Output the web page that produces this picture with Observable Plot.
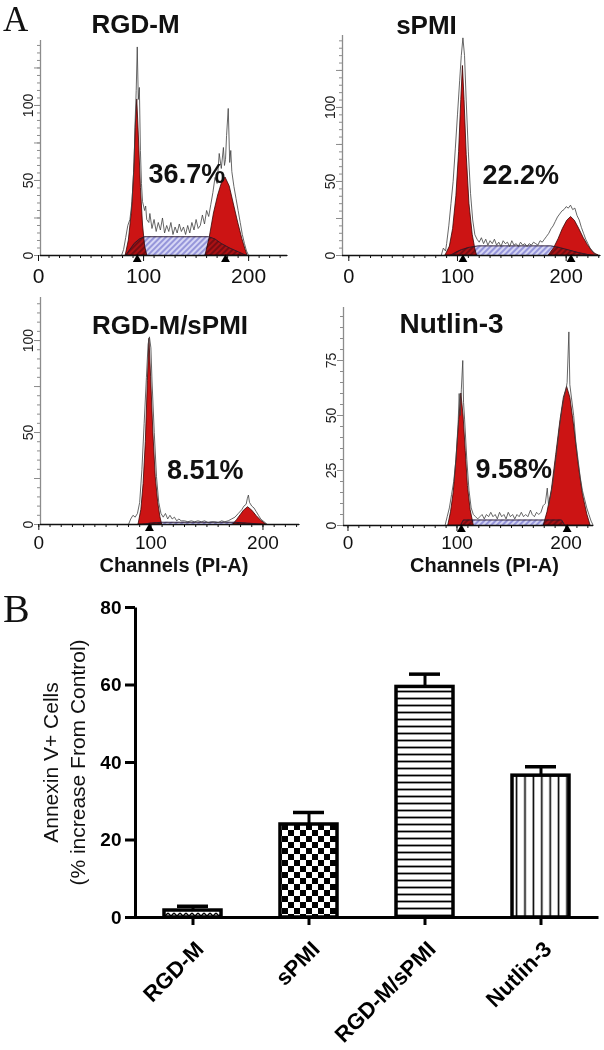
<!DOCTYPE html>
<html>
<head>
<meta charset="utf-8">
<script src="https://cdn.jsdelivr.net/npm/d3@7"></script>
<script src="https://cdn.jsdelivr.net/npm/@observablehq/plot@0.6"></script>
<style>
html, body { margin: 0; padding: 0; background: #fff; }
#root { position: relative; width: 604px; height: 1050px; overflow: hidden; background: #fff; }
.panel { position: absolute; }
.letter { position: absolute; font-family: "Liberation Serif", "Times New Roman", serif; line-height: 1.1; color: #111; }
</style>
</head>
<body>
<svg width="0" height="0" style="position:absolute">
  <defs>
    <pattern id="hatchS" patternUnits="userSpaceOnUse" width="4" height="4" patternTransform="rotate(45)">
      <rect width="4" height="4" fill="#d6d6f5"/>
      <line x1="1" y1="0" x2="1" y2="4" stroke="#6a6ac8" stroke-width="1.2"/>
    </pattern>
    <pattern id="patZig" patternUnits="userSpaceOnUse" width="6" height="8">
      <rect width="6" height="8" fill="#fff"/>
      <path d="M0,3 L3,6 L6,3" fill="none" stroke="#000" stroke-width="1.4"/>
    </pattern>
    <pattern id="patCheck" patternUnits="userSpaceOnUse" width="12" height="12">
      <rect width="12" height="12" fill="#fff"/>
      <rect x="0" y="0" width="6" height="6" fill="#000"/>
      <rect x="6" y="6" width="6" height="6" fill="#000"/>
    </pattern>
    <pattern id="patHoriz" patternUnits="userSpaceOnUse" width="8" height="7">
      <rect width="8" height="7" fill="#fff"/>
      <line x1="0" y1="3.5" x2="8" y2="3.5" stroke="#000" stroke-width="1.8"/>
    </pattern>
    <pattern id="patVert" patternUnits="userSpaceOnUse" width="8.4" height="8">
      <rect width="8.4" height="8" fill="#fff"/>
      <line x1="4.2" y1="0" x2="4.2" y2="8" stroke="#000" stroke-width="1.6"/>
    </pattern>
  </defs>
</svg>
<div id="root"></div>
<script>
// ---------------- DATA ----------------
// Panel A histograms: [channel, count] pairs
const panelTitles = ["RGD-M", "sPMI", "RGD-M/sPMI", "Nutlin-3"];
const sPhasePct = ["36.7%", "22.2%", "8.51%", "9.58%"];
const xTickLabels = [0, 100, 200];
const yTicksA12 = [0, 50, 100];
const yTicksA3 = [0, 50, 100];
const yTicksA4 = [0, 25, 50, 75];
const channelsLabel = "Channels (PI-A)";

// RGD-M
const rgdRaw = [[2,0],[79,0],[81,4],[83,12],[85,20],[87,24],[89,36],[91,62],[92,90],[93,110],[94,139],[95,104],[96,112],[97,70],[98,48],[99,36],[101,30],[102,33],[103,24],[105,22],[106,28],[108,18],[110,24],[112,16],[114,22],[116,17],[118,25],[120,15],[122,20],[124,16],[126,22],[128,14],[130,19],[132,15],[134,21],[136,16],[138,19],[140,14],[142,20],[144,15],[146,22],[148,17],[150,24],[152,18],[154,20],[156,27],[158,21],[160,30],[162,26],[164,34],[166,42],[168,52],[170,48],[172,68],[174,58],[176,72],[177,60],[178,64],[179,80],[180.6,98],[182,62],[183,70],[184,56],[186,46],[188,38],[190,30],[192,22],[194,14],[196,8],[198,3],[200,0],[237,0]];
const rgdG1 = [[83,0],[86,10],[89,30],[91,55],[92.5,85],[94,104],[95.5,80],[97.5,45],[99.5,20],[101.5,6],[103.5,0]];
const rgdG2 = [[159,0],[163,12],[167,28],[171,40],[174.5,48],[178,52],[182,46],[186,34],[190,22],[194,11],[197,4],[199,0]];
const rgdS = [[83,0],[87,4],[91,8],[96,11],[101,12.5],[162,12.5],[168,11],[174,8],[182,5],[190,2.5],[198,0]];
const rgdPeaks = [94, 178];

// sPMI
const spmiRaw = [[-5.8,0],[85,0],[87,5],[89,3],[90,8],[92,20],[94,35],[96,50],[98,72],[100,95],[102,118],[103.5,135],[105,147],[106.5,135],[108,105],[110,70],[112,42],[114,24],[116,14],[118,11],[120,9],[122,12],[124,8],[126,11],[128,7],[130,10],[132,8],[134,11],[136,7],[138,9],[140,6],[142,10],[144,8],[146,9],[148,6],[150,10],[152,7],[154,8],[156,6],[158,9],[160,7],[162,8],[164,6],[166,8],[168,7],[170,9],[172,8],[174,7],[176,10],[178,9],[180,11],[182,13],[184,15],[186,18],[188,20],[190,23],[192,26],[194,28],[196,30],[198,31],[200,33],[202,32],[204,34],[206,31],[208,32],[210,27],[212,24],[214,19],[216,15],[218,11],[220,8],[222,5],[224,3],[226,1],[228,0],[231.6,0]];
const spmiG1 = [[89,0],[93,6],[96,18],[99,40],[101.5,70],[103.5,105],[105,128],[106.5,105],[108.5,68],[111,35],[114,14],[116.5,4],[118,0]];
const spmiG2 = [[184,0],[189,5],[193,11],[197,18],[201,23.5],[204.5,26],[208,23.5],[212,18],[216,12],[220,7],[224,3],[227,1],[230,0]];
const spmiS = [[93,0],[98,2],[104,4],[111,5.5],[119,6.5],[186,6.5],[193,5.5],[201,4],[211,2],[221,0.5],[226,0]];
const spmiPeaks = [105, 204.5];

// RGD-M/sPMI
const comboRaw = [[1.5,0],[80,0],[82,3],[84,5],[86,4],[88,6],[90,12],[92,30],[94,55],[96,80],[97.5,98],[98.7,102],[100,96],[101,78],[103,50],[105,26],[107,12],[109,6],[111,4],[113,6],[115,3],[117,5],[119,3],[121,4],[123,2],[125,3],[127,2],[130,2],[133,1.5],[136,2],[139,1.5],[142,2],[145,1.5],[148,2],[151,1],[154,1.5],[157,1.5],[160,1],[163,2],[166,1.5],[169,2],[172,3],[175,4],[178,6],[181,8],[183,10],[185,11],[186,14],[187,16],[188,12],[190,10],[192,9],[194,7],[196,5],[198,3],[200,2],[202,1],[204,0],[232.6,0]];
const comboG1 = [[89,0],[91.5,8],[93.5,22],[95.5,45],[97.3,78],[98.7,101],[100.2,80],[102.2,50],[104.3,26],[106.5,12],[108.5,4],[110,0]];
const comboG2 = [[173.5,0],[177,2.5],[180,5],[183,7.5],[186.7,9.4],[190.5,7.5],[194.5,4.5],[198.5,2],[203,0]];
const comboS = [[92,0],[100,0.8],[110,1.2],[175,1.2],[190,0.6],[200,0]];
const comboPeaks = [98.7];

// Nutlin-3
const nutRaw = [[-4.1,0],[89,0],[91,4],[93,8],[95,14],[97,20],[99,30],[101,46],[102,60],[103,50],[104,62],[105.3,75],[106,56],[107,48],[109,30],[111,16],[113,8],[115,5],[117,4],[119,3],[121,4],[123,5],[125,3],[127,5],[129,4],[131,6],[133,4],[135,5],[137,3],[139,6],[141,4],[143,5],[145,3],[147,6],[149,4],[151,5],[153,3],[155,5],[157,4],[159,6],[161,4],[163,5],[165,4],[167.4,7],[169,5],[171,4],[173,6],[175,5],[177,6],[179,9],[181,10],[182.8,17],[184,9],[186,14],[188,20],[190,28],[192,36],[194,45],[196,52],[198,58],[200,62],[201,65],[202.6,88],[203.5,64],[205,58],[207,50],[209,38],[211,30],[213,22],[215,16],[217,12],[219,8],[221,5],[223,2],[225,0]];
const nutG1 = [[92,0],[94.5,6],[97,15],[99.5,30],[102,48],[104,60],[106,50],[108,34],[110,18],[112.5,7],[115.4,0]];
const nutG2 = [[179.6,0],[183,6],[187,16],[191,32],[195,48],[198,58],[201,63],[204,58],[207.5,45],[211.5,28],[215.5,14],[219.5,5],[222.5,0]];
const nutS = [[103,0],[106,2.5],[196,2.5],[199,0]];
const nutPeaks = [104, 201];

// Panel B bar chart
const annexinCats = ["RGD-M", "sPMI", "RGD-M/sPMI", "Nutlin-3"];
const annexinMean = [1.8, 24.0, 59.5, 36.6];
const annexinSEM = [1.1, 3.1, 3.3, 2.3];
const annexinYTicks = [0, 20, 40, 60, 80];
const annexinYLabel = "Annexin V+ Cells\n(% increase From Control)";

// ---------------- LAYOUT / STYLE ----------------
const FONT = "Liberation Sans, Arial, Helvetica, sans-serif";
const RED = "#cc1414";
const X = d => d[0], Y = d => d[1];
const root = document.getElementById("root");

function place(node, left, top) {
  const div = document.createElement("div");
  div.className = "panel";
  div.style.left = left + "px";
  div.style.top = top + "px";
  div.appendChild(node);
  root.appendChild(div);
}

function histogram(p) {
  const [x0, x1] = p.xDomain;
  const yTop = p.yDomain[1];
  const minorX = d3.range(0, x1, 10);
  const minorY = d3.range(0, yTop, 5);
  const midY = d3.range(0, yTop, 25);
  const marks = [
    Plot.areaY(p.g1, {x: X, y: Y, fill: RED, stroke: "#3a0505", strokeWidth: 0.8}),
    Plot.areaY(p.g2, {x: X, y: Y, fill: RED, stroke: "#3a0505", strokeWidth: 0.8}),
    Plot.areaY(p.s, {x: X, y: Y, fill: "url(#hatchS)", mixBlendMode: "multiply"}),
    Plot.lineY(p.s, {x: X, y: Y, stroke: "#2b1a2b", strokeWidth: 0.9}),
    Plot.lineY(p.raw, {x: X, y: Y, stroke: "#404040", strokeWidth: 0.8}),
    Plot.ruleX([x0], {stroke: "#8c8c8c", strokeWidth: 1.3}),
    Plot.axisY({ticks: minorY, tickSize: 3, tickFormat: () => "", stroke: "#8c8c8c", label: null}),
    Plot.axisY({ticks: midY, tickSize: 6, tickFormat: () => "", stroke: "#8c8c8c", label: null}),
    Plot.text(p.yTicks, {x: x0, y: d => d, text: d => `${d}`, rotate: -90, textAnchor: "middle", lineAnchor: "bottom", dx: -8, fontSize: 14, fill: "#222"}),
    Plot.ruleY([0], {stroke: "#111", strokeWidth: 1.3}),
    Plot.axisX({ticks: minorX, tickSize: 3, tickFormat: () => "", label: null, stroke: "#111"}),
    Plot.axisX({ticks: xTickLabels, tickSize: 6, tickPadding: p.tp, fontSize: p.xfs, label: null, stroke: "#111", fill: "#111"}),
    Plot.dot(p.peaks, {x: d => d, y: 0, symbol: "triangle", r: 3.3, fill: "#000", dy: 4}),
    Plot.text([p.title], {x: p.titleAt[0], y: p.titleAt[1], text: d => d, fontSize: p.tfs, fontWeight: "bold", textAnchor: "middle", lineAnchor: "bottom", fill: "#111"}),
    Plot.text([p.pct], {x: p.pctAt[0], y: p.pctAt[1], text: d => d, fontSize: 27, fontWeight: "bold", textAnchor: "start", lineAnchor: "bottom", fill: "#111"})
  ];
  if (p.chAt != null) {
    marks.push(Plot.text([channelsLabel], {x: p.chAt, frameAnchor: "bottom", dy: p.chDy, text: d => d, fontSize: 20, fontWeight: "bold", textAnchor: "middle", lineAnchor: "bottom", fill: "#111"}));
  }
  return Plot.plot({
    width: p.w, height: p.h,
    marginLeft: p.ml, marginRight: p.mr, marginTop: p.mt, marginBottom: p.mb,
    x: {domain: p.xDomain},
    y: {domain: p.yDomain},
    style: {fontFamily: FONT, background: "white", overflow: "visible"},
    marks
  });
}

place(histogram({
  w: 300, h: 285, ml: 40, mr: 13, mt: 40, mb: 30,
  xDomain: [1.9, 237], yDomain: [0, 143.3], yTicks: yTicksA12,
  raw: rgdRaw, g1: rgdG1, g2: rgdG2, s: rgdS, peaks: rgdPeaks,
  title: panelTitles[0], titleAt: [92.4, 148], tfs: 26,
  pct: sPhasePct[0], pctAt: [104.8, 48],
  xfs: 21, tp: 7
}), 0, 0);

place(histogram({
  w: 304, h: 285, ml: 42, mr: 4, mt: 35, mb: 30,
  xDomain: [-5.8, 231.6], yDomain: [0, 148.6], yTicks: yTicksA12,
  raw: spmiRaw, g1: spmiG1, g2: spmiG2, s: spmiS, peaks: spmiPeaks,
  title: panelTitles[1], titleAt: [71.5, 149.5], tfs: 26,
  pct: sPhasePct[1], pctAt: [123, 48],
  xfs: 20, tp: 7
}), 300, 0);

place(histogram({
  w: 300, h: 305, ml: 40, mr: 1, mt: 12, mb: 66,
  xDomain: [1.5, 232.6], yDomain: [0, 123.4], yTicks: yTicksA3,
  raw: comboRaw, g1: comboG1, g2: comboG2, s: comboS, peaks: comboPeaks,
  title: panelTitles[2], titleAt: [117.1, 103.8], tfs: 26,
  pct: sPhasePct[2], pctAt: [114.4, 25],
  xfs: 19, tp: 5, chAt: 120.6, chDy: 47
}), 0, 285);

place(histogram({
  w: 304, h: 305, ml: 43, mr: 11, mt: 22, mb: 65,
  xDomain: [-4.1, 225.2], yDomain: [0, 99.1], yTicks: yTicksA4,
  raw: nutRaw, g1: nutG1, g2: nutG2, s: nutS, peaks: nutPeaks,
  title: panelTitles[3], titleAt: [95, 87.3], tfs: 28,
  pct: sPhasePct[3], pctAt: [117, 21.4],
  xfs: 19, tp: 4, chAt: 125.2, chDy: 46
}), 300, 285);

// ---------------- Panel B ----------------
const barPatterns = ["url(#patZig)", "url(#patCheck)", "url(#patHoriz)", "url(#patVert)"];
const barData = annexinCats.map((c, i) => ({cat: c, mean: annexinMean[i], sem: annexinSEM[i], pattern: barPatterns[i]}));
const BW = 604, BH = 460, BML = 135, BMR = 6, BMT = 17, BMB = 133;
const frameW = BW - BML - BMR, frameH = BH - BMT - BMB;

const barSvg = Plot.plot({
  width: BW, height: BH,
  marginLeft: BML, marginRight: BMR, marginTop: BMT, marginBottom: BMB,
  x: {domain: annexinCats, paddingInner: 0.51, paddingOuter: 0.245},
  y: {domain: [0, 80]},
  color: {type: "identity"},
  style: {fontFamily: FONT, background: "white", overflow: "visible"},
  marks: [
    Plot.barY(barData, {x: "cat", y: "mean", fill: "pattern", stroke: "#000", strokeWidth: 3.5}),
    Plot.ruleX(barData, {x: "cat", y1: "mean", y2: d => d.mean + d.sem, stroke: "#000", strokeWidth: 3}),
    Plot.tickY(barData, {x: "cat", y: d => d.mean + d.sem, stroke: "#000", strokeWidth: 3.5, insetLeft: 13, insetRight: 13}),
    Plot.frame({stroke: "#000", strokeWidth: 3, strokeDasharray: `0 ${frameW + frameH} ${frameW + frameH}`}),
    Plot.axisY({ticks: annexinYTicks, tickSize: 10, tickFormat: () => "", stroke: "#000", strokeWidth: 3, label: null}),
    Plot.text(annexinYTicks, {y: d => d, frameAnchor: "left", text: d => `${d}`, textAnchor: "end", lineAnchor: "middle", dx: -14, fontSize: 19, fontWeight: "bold", fill: "#000"}),
    Plot.axisX({tickSize: 8, tickFormat: () => "", stroke: "#000", strokeWidth: 3, label: null}),
    Plot.text(annexinCats, {x: d => d, frameAnchor: "bottom", text: d => d, rotate: -45, textAnchor: "end", lineAnchor: "middle", dx: 7, dy: 28, fontSize: 22, fontWeight: "bold", fill: "#000"}),
    Plot.text([annexinYLabel], {frameAnchor: "left", text: d => d, rotate: -90, textAnchor: "middle", lineAnchor: "middle", lineHeight: 1.29, dx: -73, fontSize: 21, fill: "#111"})
  ]
});
place(barSvg, 0, 590);

// Panel letters
for (const [txt, top, size] of [["A", 1, 35], ["B", 587, 40]]) {
  const s = document.createElement("div");
  s.className = "letter";
  s.style.left = "3px";
  s.style.top = top + "px";
  s.style.fontSize = size + "px";
  s.textContent = txt;
  root.appendChild(s);
}
</script>
</body>
</html>
